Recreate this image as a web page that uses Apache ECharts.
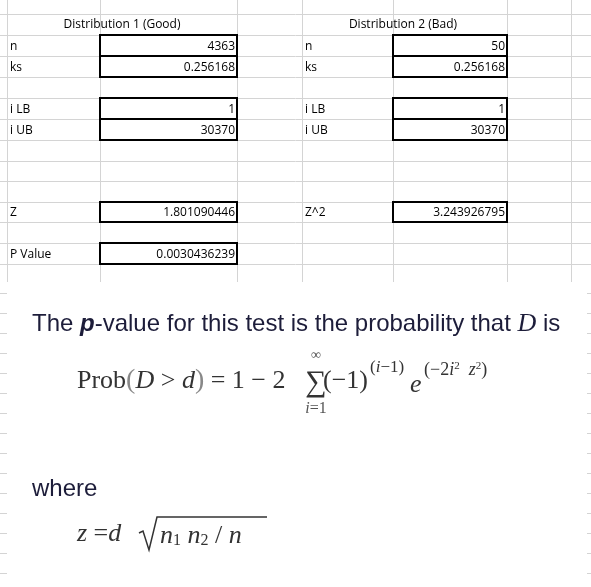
<!DOCTYPE html>
<html>
<head>
<meta charset="utf-8">
<script src="https://cdn.jsdelivr.net/npm/echarts@6/dist/echarts.min.js"></script>
<style>html,body{margin:0;padding:0;background:#fff}#chart{width:591px;height:587px}</style>
</head>
<body>
<div id="chart"></div>
<script>
// sheet layout
const colLines = [7, 100, 237, 302, 393, 507, 571];
const rowLines = [14, 35, 56, 77, 98, 119, 140, 161, 181, 202, 222, 243, 264];

// cell contents
const headers = ['Distribution 1 (Good)', 'Distribution 2 (Bad)'];
const leftLabels = ['n', 'ks', 'i LB', 'i UB', 'Z', 'P Value'];
const leftValues = ['4363', '0.256168', '1', '30370', '1.801090446', '0.0030436239'];
const rightLabels = ['n', 'ks', 'i LB', 'i UB', 'Z^2'];
const rightValues = ['50', '0.256168', '1', '30370', '3.243926795'];
const valueRows = [1, 2, 4, 5, 9, 11];

const chart = echarts.init(document.getElementById('chart'));
const g = [];
const font = '12px "Open Sans", Calibri, sans-serif';

colLines.forEach(x => g.push({type: 'line', shape: {x1: x + 0.5, y1: 0, x2: x + 0.5, y2: 282}, style: {stroke: '#d4d4d4', lineWidth: 1}}));
rowLines.forEach(y => g.push({type: 'line', shape: {x1: 0, y1: y + 0.5, x2: 591, y2: y + 0.5}, style: {stroke: '#d4d4d4', lineWidth: 1}}));

g.push({type: 'text', style: {x: 122, y: 25, text: headers[0], font, fill: '#000', align: 'center', verticalAlign: 'middle'}});
g.push({type: 'text', style: {x: 403, y: 25, text: headers[1], font, fill: '#000', align: 'center', verticalAlign: 'middle'}});

function block(labels, values, xl, x1, x2) {
  labels.forEach((lab, i) => {
    const r = valueRows[i];
    const y1 = rowLines[r], y2 = rowLines[r + 1];
    const yc = (y1 + y2) / 2 + 1;
    g.push({type: 'text', style: {x: xl, y: yc, text: lab, font, fill: '#000', verticalAlign: 'middle'}});
    g.push({type: 'rect', shape: {x: x1, y: y1, width: x2 - x1, height: y2 - y1}, style: {fill: '#fff', stroke: '#000', lineWidth: 2}});
    g.push({type: 'text', style: {x: x2 - 2, y: yc, text: values[i], font, fill: '#000', align: 'right', verticalAlign: 'middle'}});
  });
}
block(leftLabels, leftValues, 10, 100, 237);
block(rightLabels, rightValues, 305, 393, 507);

// pasted formula image area
g.push({type: 'rect', shape: {x: 8, y: 283, width: 583, height: 304}, style: {fill: '#fff'}});
for (let y = 293; y < 587; y += 20) {
  g.push({type: 'line', shape: {x1: 0, y1: y + 0.5, x2: 7, y2: y + 0.5}, style: {stroke: '#d4d4d4'}});
  g.push({type: 'line', shape: {x1: 587, y1: y + 0.5, x2: 591, y2: y + 0.5}, style: {stroke: '#d4d4d4'}});
}

const sans = '"Liberation Sans", Arial, sans-serif';
const serif = '"Liberation Serif", "Times New Roman", serif';
g.push({type: 'text', style: {x: 32, y: 324, verticalAlign: 'middle',
  text: '{a|The }{b|p}{a|-value for this test is the probability that }{c|D}{a| is}',
  rich: {a: {fontSize: 24, fontFamily: sans, fill: '#1d1d3a'},
         b: {fontSize: 24, fontFamily: sans, fontWeight: 'bold', fontStyle: 'italic', fill: '#1d1d3a'},
         c: {fontSize: 26, fontFamily: serif, fontStyle: 'italic', fill: '#1d1d3a'}}}});

const m = {fontSize: 26, fontFamily: serif, fill: '#333'};
const mi = {fontSize: 26, fontFamily: serif, fontStyle: 'italic', fill: '#333'};
g.push({type: 'text', style: {x: 77, y: 381, verticalAlign: 'middle',
  text: '{r|Prob}{p|(}{i|D}{r| > }{i|d}{p|)}{r| = 1 − 2}',
  rich: {r: m, i: mi, p: {fontSize: 28, fontFamily: serif, fill: '#888'}}}});
g.push({type: 'text', style: {x: 316, y: 383, text: '∑', fontSize: 30, fontFamily: serif, fill: '#333', align: 'center', verticalAlign: 'middle'}});
g.push({type: 'text', style: {x: 316, y: 355, text: '∞', fontSize: 14, fontFamily: serif, fill: '#555', align: 'center', verticalAlign: 'middle'}});
g.push({type: 'text', style: {x: 316, y: 409, text: '{i|i}{r|=1}', align: 'center', verticalAlign: 'middle',
  rich: {i: {fontSize: 16, fontFamily: serif, fontStyle: 'italic', fill: '#555'}, r: {fontSize: 16, fontFamily: serif, fill: '#555'}}}});
g.push({type: 'text', style: {x: 323, y: 381, text: '(−1)', ...m, verticalAlign: 'middle'}});
g.push({type: 'text', style: {x: 370, y: 368, verticalAlign: 'middle', text: '{r|(}{i|i}{r|−1)}',
  rich: {r: {fontSize: 17, fontFamily: serif, fill: '#333'}, i: {fontSize: 17, fontFamily: serif, fontStyle: 'italic', fill: '#333'}}}});
g.push({type: 'text', style: {x: 410, y: 385, text: 'e', ...mi, verticalAlign: 'middle'}});
g.push({type: 'text', style: {x: 424, y: 370, verticalAlign: 'middle', text: '{r|(−2}{i|i}{s|2}{r|  }{i|z}{s|2}{r|)}',
  rich: {r: {fontSize: 18, fontFamily: serif, fill: '#333'}, i: {fontSize: 18, fontFamily: serif, fontStyle: 'italic', fill: '#333'},
         s: {fontSize: 11, fontFamily: serif, fill: '#333', verticalAlign: 'top'}}}});

g.push({type: 'text', style: {x: 32, y: 489, text: 'where', fontSize: 24, fontFamily: sans, fill: '#1d1d3a', verticalAlign: 'middle'}});
g.push({type: 'text', style: {x: 77, y: 534, verticalAlign: 'middle', text: '{i|z}{r| =}{i|d}',
  rich: {r: m, i: mi}}});
g.push({type: 'polyline', shape: {points: [[139, 533], [143, 531], [149, 550], [157, 517], [267, 517]]}, style: {stroke: '#333', lineWidth: 1.5, fill: null}});
g.push({type: 'text', style: {x: 160, y: 536, verticalAlign: 'middle', text: '{i|n}{s|1}{r| }{i|n}{s|2}{r| / }{i|n}',
  rich: {r: m, i: mi, s: {fontSize: 16, fontFamily: serif, fill: '#333', verticalAlign: 'bottom'}}}});

chart.setOption({animation: false, graphic: g});
</script>
</body>
</html>
